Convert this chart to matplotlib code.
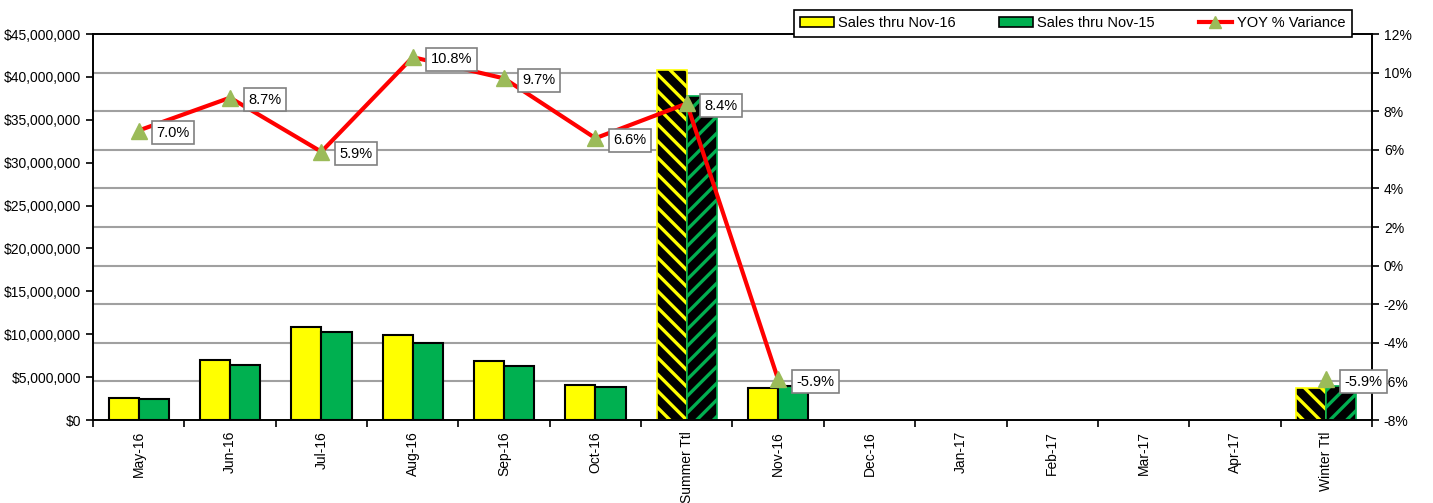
import numpy as np
import matplotlib
matplotlib.use('Agg')
import matplotlib.pyplot as plt
from matplotlib.ticker import FuncFormatter, FixedLocator
from matplotlib.transforms import blended_transform_factory
from matplotlib.lines import Line2D
from matplotlib.patches import Patch

# Data
months = ['May-16', 'Jun-16', 'Jul-16', 'Aug-16', 'Sep-16', 'Oct-16', 'Summer Ttl',
          'Nov-16', 'Dec-16', 'Jan-17', 'Feb-17', 'Mar-17', 'Apr-17', 'Winter Ttl']
sales_2016 = [2.58e6, 6.96e6, 10.87e6, 9.94e6, 6.88e6, 4.08e6, 40.85e6,
              3.75e6, 0, 0, 0, 0, 0, 3.75e6]
sales_2015 = [2.41e6, 6.41e6, 10.26e6, 8.97e6, 6.26e6, 3.83e6, 37.76e6,
              3.98e6, 0, 0, 0, 0, 0, 3.98e6]
yoy_pct = [7.0, 8.7, 5.9, 10.8, 9.7, 6.6, 8.4, -5.9,
           np.nan, np.nan, np.nan, np.nan, np.nan, -5.9]
total_cols = ['Summer Ttl', 'Winter Ttl']

plt.rcParams['font.family'] = ['Liberation Sans', 'DejaVu Sans']
plt.rcParams['font.size'] = 10
plt.rcParams['hatch.linewidth'] = 2.4

fig = plt.figure(figsize=(14.33, 5.03), dpi=100)
ax = fig.add_axes([0.0649, 0.165, 0.8925, 0.7674])
ax2 = ax.twinx()

x = np.arange(len(months))
w = 0.33

# Bars (total columns drawn with stripes)
for i, m in enumerate(months):
    if m in total_cols:
        ax.bar(x[i] - w / 2, sales_2016[i], w, facecolor='black', edgecolor='#FFFF00',
               hatch='\\\\', linewidth=1.2, zorder=2)
        ax.bar(x[i] + w / 2, sales_2015[i], w, facecolor='black', edgecolor='#00B050',
               hatch='//', linewidth=1.2, zorder=2)
    elif sales_2016[i] > 0:
        ax.bar(x[i] - w / 2, sales_2016[i], w, facecolor='#FFFF00', edgecolor='black',
               linewidth=1.5, zorder=2)
        ax.bar(x[i] + w / 2, sales_2015[i], w, facecolor='#00B050', edgecolor='black',
               linewidth=1.5, zorder=2)

ax.set_xlim(-0.5, len(months) - 0.5)
ax.set_ylim(0, 45e6)
ax.yaxis.set_major_locator(FixedLocator(np.arange(0, 45e6 + 1, 5e6)))
ax.yaxis.set_major_formatter(FuncFormatter(lambda v, p: f"${v:,.0f}"))
ax.set_xticks(x)
ax.set_xticklabels(months, rotation=90)
ax.set_xticks(np.arange(-0.5, len(months), 1), minor=True)
ax.tick_params(axis='x', which='major', length=0, pad=8)
ax.tick_params(axis='x', which='minor', length=5, width=1.2, direction='out')
ax.tick_params(axis='y', length=5, width=1.2, direction='out')

# Line on right axis
ax2.plot(x, yoy_pct, color='red', linewidth=3, marker='^', markersize=11,
         markerfacecolor='#9BBB59', markeredgecolor='#9BBB59', zorder=3)
ax2.set_ylim(-8, 12)
ax2.set_yticks(np.arange(-8, 13, 2))
ax2.yaxis.set_major_formatter(FuncFormatter(lambda v, p: f"{v:.0f}%"))
ax2.tick_params(axis='y', length=5, width=1.2, direction='out')

# Gridlines follow the right axis but sit behind the bars
trans = blended_transform_factory(ax.transAxes, ax2.transData)
for g in np.arange(-6, 12, 2):
    ax.plot([0, 1], [g, g], transform=trans, color='#A0A0A0', linewidth=1.5, zorder=1)

for sp in list(ax.spines.values()) + list(ax2.spines.values()):
    sp.set_linewidth(1.2)
    sp.set_color('black')

# Data labels
for i, v in enumerate(yoy_pct):
    if np.isnan(v):
        continue
    ax2.annotate(f"{v:.1f}%", (x[i], v), xytext=(13, -1.5), textcoords='offset points',
                 ha='left', va='center', fontsize=10.5, zorder=5, annotation_clip=False,
                 bbox=dict(boxstyle='square,pad=0.3', fc='white', ec='#808080', lw=1.2))

# Legend
handles = [Patch(facecolor='#FFFF00', edgecolor='black', linewidth=1.2),
           Patch(facecolor='#00B050', edgecolor='black', linewidth=1.2),
           Line2D([0], [0], color='red', linewidth=3, marker='^', markersize=8,
                  markerfacecolor='#9BBB59', markeredgecolor='#9BBB59')]
labels = ['Sales thru Nov-16', 'Sales thru Nov-15', 'YOY % Variance']
leg = fig.legend(handles, labels, ncol=3, loc='center', bbox_to_anchor=(0.7485, 0.954),
                 frameon=True, fancybox=False, edgecolor='black', framealpha=1,
                 handlelength=2.3, handleheight=0.6, handletextpad=0.3,
                 columnspacing=3.0, fontsize=10.5, borderpad=0.45)
leg.get_frame().set_linewidth(1.2)
leg.set_zorder(10)

fig.savefig('out.png', dpi=100)
